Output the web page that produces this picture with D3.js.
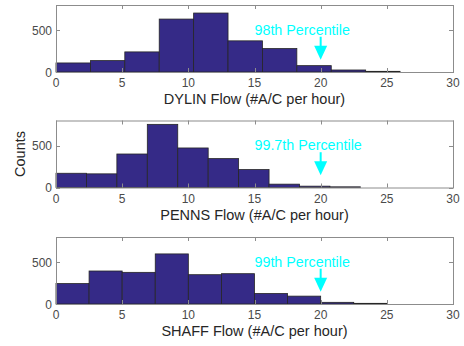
<!DOCTYPE html>
<html>
<head>
<meta charset="utf-8">
<script src="https://cdn.jsdelivr.net/npm/d3@7"></script>
<style>
  body { margin: 0; background: #fff; }
  svg text { font-family: "Liberation Sans", Arial, sans-serif; }
</style>
</head>
<body>
<div id="viz"></div>
<script>
// histogram counts
const dylinCounts = [108, 136, 240, 632, 704, 372, 280, 76, 24, 8];
const pennsCounts = [170, 163, 400, 754, 472, 345, 214, 40, 16, 8];
const shaffCounts = [244, 394, 378, 598, 350, 362, 126, 94, 20, 8];

const binWidths = [2.6, 2.3, 2.5];
const names = ["DYLIN", "PENNS", "SHAFF"];
const percentileLabels = ["98th Percentile", "99.7th Percentile", "99th Percentile"];
const percentileX = 20;
const xTicks = [0, 5, 10, 15, 20, 25, 30];
const yTicks = [0, 500];

const panels = [
  { counts: dylinCounts, top: 5 },
  { counts: pennsCounts, top: 120.5 },
  { counts: shaffCounts, top: 237 }
];

const W = 464, H = 346;
const left = 56, right = 453, ph = 67;

const svg = d3.select("#viz").append("svg")
  .attr("width", W).attr("height", H);

const x = d3.scaleLinear().domain([0, 30]).range([left, right]);

panels.forEach((p, i) => {
  const y = d3.scaleLinear().domain([0, 800]).range([p.top + ph, p.top]);
  const g = svg.append("g");
  const bw = binWidths[i];
  const bins = p.counts.map((c, k) => ({ x0: k * bw, x1: (k + 1) * bw, c }));

  g.selectAll("rect.bar")
   .data(bins)
   .enter()
   .append("rect")
   .attr("class", "bar")
   .attr("x", d => x(d.x0))
   .attr("y", d => y(d.c))
   .attr("width", d => x(d.x1) - x(d.x0))
   .attr("height", d => y(0) - y(d.c))
   .attr("fill", "#352a87")
   .attr("stroke", "#262626")
   .attr("stroke-width", 0.8);

  // box
  g.append("rect")
   .attr("x", left + 0.5).attr("y", p.top + 0.5)
   .attr("width", right - left).attr("height", ph)
   .attr("fill", "none").attr("stroke", "#8c8c8c").attr("stroke-width", 1);

  // ticks inward, MATLAB style
  const tk = 4;
  xTicks.forEach(t => {
    const xx = Math.round(x(t)) + 0.5;
    g.append("line").attr("x1", xx).attr("x2", xx)
     .attr("y1", p.top + ph).attr("y2", p.top + ph - tk)
     .attr("stroke", "#8c8c8c");
    g.append("line").attr("x1", xx).attr("x2", xx)
     .attr("y1", p.top).attr("y2", p.top + tk)
     .attr("stroke", "#8c8c8c");
    g.append("text")
     .attr("x", x(t)).attr("y", p.top + ph + 15)
     .attr("text-anchor", "middle")
     .attr("fill", "#4a4a4a")
     .style("font-size", "12px")
     .text(t);
  });
  yTicks.forEach(t => {
    const yy = Math.round(y(t)) + 0.5;
    g.append("line").attr("x1", left).attr("x2", left + tk)
     .attr("y1", yy).attr("y2", yy).attr("stroke", "#8c8c8c");
    g.append("line").attr("x1", right).attr("x2", right - tk)
     .attr("y1", yy).attr("y2", yy).attr("stroke", "#8c8c8c");
    g.append("text")
     .attr("x", left - 4).attr("y", y(t) + 4.5)
     .attr("text-anchor", "end")
     .attr("fill", "#4a4a4a")
     .style("font-size", "12px")
     .text(t);
  });

  g.append("text")
   .attr("x", (left + right) / 2).attr("y", p.top + ph + 32)
   .attr("text-anchor", "middle")
   .attr("fill", "#262626")
   .style("font-size", "14.5px")
   .text(`${names[i]} Flow (#A/C per hour)`);

  // percentile marker
  const ax = x(percentileX);
  const textY = y(445);
  g.append("text")
   .attr("x", x(15)).attr("y", textY)
   .attr("fill", "#00ffff")
   .style("font-size", "14.3px")
   .text(percentileLabels[i]);
  g.append("line")
   .attr("x1", ax).attr("x2", ax)
   .attr("y1", textY + 2).attr("y2", textY + 13)
   .attr("stroke", "#00ffff").attr("stroke-width", 2);
  g.append("path")
   .attr("d", `M${ax - 6.5},${textY + 11} L${ax + 6.5},${textY + 11} L${ax},${textY + 25} Z`)
   .attr("fill", "#00ffff");
});

svg.append("text")
  .attr("transform", `translate(25,${120.5 + ph / 2}) rotate(-90)`)
  .attr("text-anchor", "middle")
  .attr("fill", "#262626")
  .style("font-size", "14.5px")
  .text("Counts");
</script>
</body>
</html>
